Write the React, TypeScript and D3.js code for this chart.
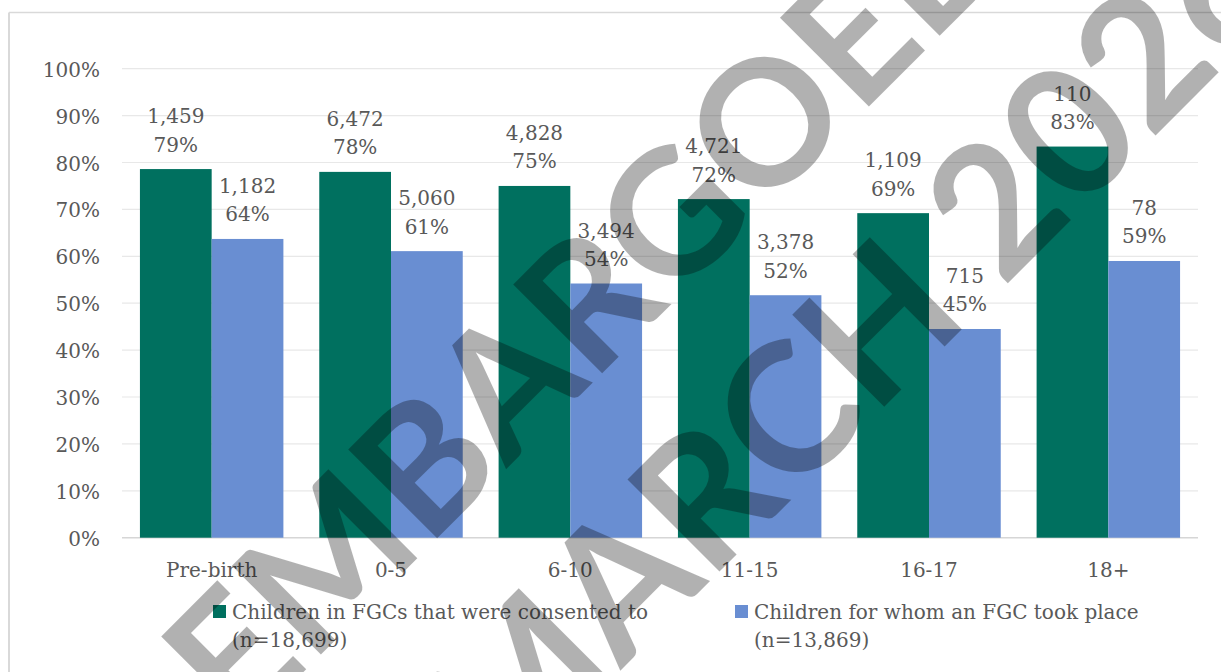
import React from "react";
import * as d3 from "d3";

const categories = ["Pre-birth", "0-5", "6-10", "11-15", "16-17", "18+"];
const consentedPct = [78.6, 78.0, 75.0, 72.2, 69.2, 83.4];
const consentedN = ["1,459", "6,472", "4,828", "4,721", "1,109", "110"];
const consentedLabel = ["79%", "78%", "75%", "72%", "69%", "83%"];
const tookPlacePct = [63.7, 61.1, 54.2, 51.7, 44.5, 59.0];
const tookPlaceN = ["1,182", "5,060", "3,494", "3,378", "715", "78"];
const tookPlaceLabel = ["64%", "61%", "54%", "52%", "45%", "59%"];
const yTicks = [0, 10, 20, 30, 40, 50, 60, 70, 80, 90, 100];
const seriesNames = ["consented", "tookPlace"];
const legendLines = [
  ["Children in FGCs that were consented to", "(n=18,699)"],
  ["Children for whom an FGC took place", "(n=13,869)"],
];
const watermarkWords = ["EMBARGOED", "MARCH 2026"];

const GREEN = "#00705F";
const BLUE = "#698ED2";
const TEXT = "#595959";
const FONT = "'DejaVu Serif', serif";

export default function App() {
  const W = 1221;
  const H = 672;
  const x0 = d3.scaleBand<string>().domain(categories).range([122, 1198]).paddingInner(0).paddingOuter(0);
  const bw = x0.bandwidth();
  const x1 = d3.scaleBand<string>().domain(seriesNames).range([bw * 0.1, bw * 0.9]).padding(0);
  const y = d3.scaleLinear().domain([0, 100]).range([537.7, 68.7]);
  const colors = d3.scaleOrdinal<string, string>().domain(seriesNames).range([GREEN, BLUE]);

  const series = [
    { key: "consented", pct: consentedPct, n: consentedN, lab: consentedLabel },
    { key: "tookPlace", pct: tookPlacePct, n: tookPlaceN, lab: tookPlaceLabel },
  ];

  const legendX = [213, 735];

  return (
    <svg width={W} height={H} style={{ position: "absolute", left: 0, top: 0, background: "#fff" }}>
      <rect x={0} y={0} width={W} height={H} fill="#fff" />
      {/* chart frame */}
      <line x1={9} x2={9} y1={12.5} y2={H} stroke="#d9d9d9" strokeWidth={2} />
      <line x1={9} x2={W} y1={12.5} y2={12.5} stroke="#d9d9d9" strokeWidth={1.5} />
      {/* gridlines */}
      {yTicks.map((t) => (
        <line key={t} x1={122} x2={1198} y1={y(t)} y2={y(t)} stroke={t === 0 ? "#d6d6d6" : "#e8e8e8"} strokeWidth={t === 0 ? 1.5 : 1.2} />
      ))}
      {yTicks.map((t) => (
        <text key={"yt" + t} x={100} y={y(t) + 8} textAnchor="end" fontFamily={FONT} fontSize={20} fill={TEXT}>
          {t + "%"}
        </text>
      ))}
      {/* bars */}
      {series.map((s) =>
        categories.map((c, i) => {
          const bx = (x0(c) as number) + (x1(s.key) as number);
          const top = y(s.pct[i]);
          return (
            <rect key={s.key + c} x={bx} y={top} width={x1.bandwidth()} height={y(0) - top} fill={colors(s.key)} />
          );
        })
      )}
      {/* data labels */}
      {series.map((s) =>
        categories.map((c, i) => {
          const cx = (x0(c) as number) + (x1(s.key) as number) + x1.bandwidth() / 2;
          const top = y(s.pct[i]);
          return (
            <g key={"l" + s.key + c} fontFamily={FONT} fontSize={20} fill={TEXT} textAnchor="middle">
              <text x={cx} y={top - 46}>{s.n[i]}</text>
              <text x={cx} y={top - 17.5}>{s.lab[i]}</text>
            </g>
          );
        })
      )}
      {/* x labels */}
      {categories.map((c) => (
        <text key={"x" + c} x={(x0(c) as number) + bw / 2} y={576.5} textAnchor="middle" fontFamily={FONT} fontSize={20} fill={TEXT}>
          {c}
        </text>
      ))}
      {/* legend */}
      {seriesNames.map((k, i) => (
        <g key={"lg" + k}>
          <rect x={legendX[i]} y={605} width={13} height={13} fill={colors(k)} />
          <text x={legendX[i] + 19} y={619} fontFamily={FONT} fontSize={20} fill={TEXT}>{legendLines[i][0]}</text>
          <text x={legendX[i] + 19} y={647} fontFamily={FONT} fontSize={20} fill={TEXT}>{legendLines[i][1]}</text>
        </g>
      ))}
      {/* watermark */}
      <g opacity={0.3} fontFamily="Lato, 'Liberation Sans', sans-serif" fontWeight={700} fill="#000" textAnchor="middle">
        <text x={0} y={0} fontSize={174} dominantBaseline="central" transform="translate(584 296) rotate(-45)">{watermarkWords[0]}</text>
        <text x={0} y={0} fontSize={180} dominantBaseline="central" transform="translate(850 342) rotate(-45)">{watermarkWords[1]}</text>
      </g>
    </svg>
  );
}
